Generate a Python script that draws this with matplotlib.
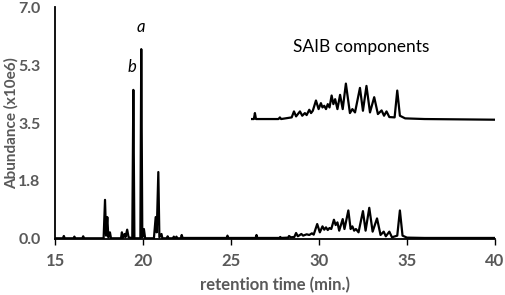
import numpy as np
import matplotlib
matplotlib.use("Agg")
import matplotlib.pyplot as plt

plt.rcParams['font.family'] = ['Lato', 'DejaVu Sans']

# lower trace: full chromatogram (time in min, abundance x10e6)
t_full = [15.0, 15.45, 15.5, 15.55, 16.05, 16.1, 16.15, 16.55, 16.6, 16.65,
          17.76, 17.84, 17.9, 17.97, 18.03, 18.12, 18.18,
          18.75, 18.8, 18.85, 18.95, 19.0, 19.1, 19.18,
          19.39, 19.45, 19.51, 19.85, 19.9, 19.96, 20.05, 20.12,
          20.62, 20.72, 20.78, 20.87, 20.93, 21.05, 21.1,
          21.35, 21.4, 21.45, 21.7, 21.75, 21.8, 21.85, 21.9, 21.95, 22.15, 22.2, 22.25,
          24.75, 24.8, 24.85, 26.4, 26.45, 26.5, 27.75, 27.8, 27.85,
          28.25, 28.3, 28.4, 28.6, 28.7, 28.8, 29.0, 29.1, 29.3, 29.45, 29.6, 29.7,
          29.9, 30.05, 30.2, 30.3, 30.4, 30.5, 30.6, 30.7, 30.85, 30.95, 31.05, 31.15,
          31.35, 31.45, 31.67, 31.8, 31.9, 32.0, 32.1, 32.25, 32.5, 32.65, 32.86, 33.05,
          33.3, 33.5, 33.68, 33.8, 34.0, 34.15, 34.45, 34.6, 34.75, 35.0, 36.0, 40.0]
y_full = [0.02, 0.02, 0.09, 0.02, 0.02, 0.07, 0.02, 0.02, 0.08, 0.02,
          0.02, 1.18, 0.1, 0.66, 0.05, 0.2, 0.02,
          0.02, 0.2, 0.03, 0.15, 0.05, 0.28, 0.05,
          0.02, 4.5, 0.02, 0.02, 5.73, 0.05, 0.3, 0.02,
          0.02, 0.66, 0.2, 2.02, 0.05, 0.15, 0.02,
          0.02, 0.08, 0.02, 0.02, 0.07, 0.02, 0.02, 0.07, 0.02, 0.02, 0.12, 0.03,
          0.03, 0.1, 0.03, 0.03, 0.12, 0.03, 0.03, 0.06, 0.03,
          0.04, 0.09, 0.05, 0.06, 0.18, 0.08, 0.15, 0.1, 0.14, 0.12, 0.17, 0.13,
          0.45, 0.2, 0.38, 0.28, 0.35, 0.27, 0.33, 0.3, 0.58, 0.42, 0.5, 0.25,
          0.6, 0.3, 0.86, 0.3, 0.38, 0.25, 0.3, 0.2, 0.84, 0.25, 0.94, 0.22,
          0.62, 0.12, 0.22, 0.08, 0.22, 0.05, 0.1, 0.86, 0.1, 0.04, 0.03, 0.03]

# upper trace: SAIB components (relative to its own baseline)
saib_base = 3.62
t_saib = [26.2, 26.3, 26.36, 26.42, 27.7, 27.78, 27.85,
          28.45, 28.58, 28.7, 28.92, 29.05, 29.2, 29.3, 29.45, 29.55, 29.65,
          29.83, 29.98, 30.11, 30.2, 30.3, 30.4, 30.5, 30.6, 30.72, 30.82, 30.92, 31.05,
          31.2, 31.35, 31.53, 31.76, 31.9, 32.05, 32.33, 32.5, 32.7, 32.9, 33.14, 33.35,
          33.56, 33.7, 33.84, 34.0, 34.3, 34.45, 34.6, 34.9, 36.0, 38.0, 40.0]
y_saib = [0.0, 0.0, 0.18, 0.0, 0.0, 0.05, 0.0,
          0.05, 0.23, 0.08, 0.23, 0.1, 0.18, 0.12, 0.28, 0.18, 0.25,
          0.56, 0.3, 0.48, 0.35, 0.4, 0.3, 0.45, 0.35, 0.71, 0.45, 0.6, 0.3,
          0.73, 0.3, 1.07, 0.18, 0.3, 0.2, 0.94, 0.25, 1.0, 0.2, 0.66, 0.15,
          0.26, 0.1, 0.23, 0.06, 0.05, 0.86, 0.1, 0.02, 0.0, -0.01, -0.02]

x_ticks = [15, 20, 25, 30, 35, 40]
y_ticks = [0.0, 1.75, 3.5, 5.25, 7.0]
y_tick_labels = ['0.0', '1.8', '3.5', '5.3', '7.0']

fig = plt.figure(figsize=(5.05, 2.95), dpi=100)
ax = fig.add_axes([0.109, 0.19, 0.871, 0.786])

ax.plot(t_full, y_full, color='black', lw=1.6)
ax.plot(t_saib, np.array(y_saib) + saib_base, color='black', lw=1.6)

ax.set_xlim(15, 40)
ax.set_ylim(0, 7.0)
ax.set_xticks(x_ticks)
ax.set_yticks(y_ticks)
ax.set_yticklabels(y_tick_labels)
ax.tick_params(axis='x', direction='out', length=4, width=1, colors='black',
               labelcolor='#595959', labelsize=12, pad=6)
ax.tick_params(axis='y', length=0, labelcolor='#595959', labelsize=11.5, pad=10.5)
for lab in ax.get_xticklabels() + ax.get_yticklabels():
    lab.set_fontweight('bold')

for s in ['top', 'right']:
    ax.spines[s].set_visible(False)
for s in ['left', 'bottom']:
    ax.spines[s].set_linewidth(1.3)

ax.set_xlabel('retention time (min.)', color='#595959', fontsize=12,
              fontweight='bold', labelpad=6)
ax.set_ylabel('Abundance (x10e6)', color='#595959', fontsize=11,
              fontweight='bold')
ax.yaxis.set_label_coords(-0.082, 0.5)

ax.text(32.4, 5.8, 'SAIB components', fontsize=12.5, ha='center', va='center')
ax.text(19.9, 6.4, 'a', fontsize=12, style='italic', ha='center', va='center')
ax.text(19.35, 5.2, 'b', fontsize=12, style='italic', ha='center', va='center')

fig.savefig('out.png', dpi=100)
